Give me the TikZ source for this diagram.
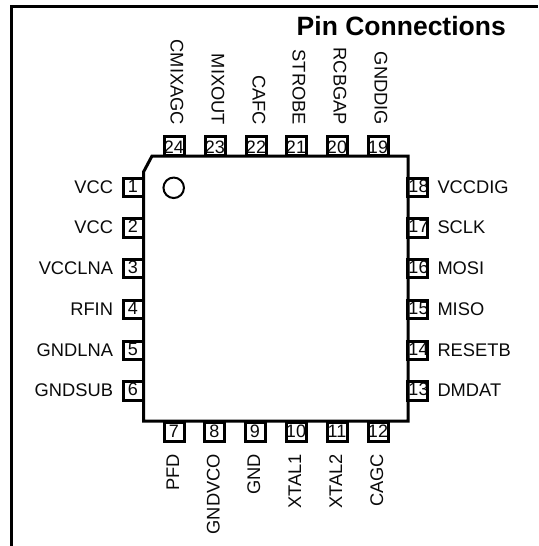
\documentclass[tikz,border=0pt]{standalone}
\usepackage{fontspec}
\setmainfont{Liberation Sans}
\definecolor{ink}{RGB}{10,10,10}
\tikzset{
  x=1pt,y=-1pt,
  pinbox/.style={draw=black,fill=none,line width=3pt,minimum width=20pt,minimum height=19pt,inner sep=0pt,outer sep=0pt},
  sidebox/.style={pinbox,minimum height=18.5pt},
  pinnum/.style={inner sep=0pt,outer sep=0pt,text=ink,font=\fontsize{18}{18}\selectfont,anchor=base},
  pinname/.style={inner sep=0pt,outer sep=0pt,text=ink,font=\fontsize{18.3}{18.3}\selectfont},
}
\begin{document}
\begin{tikzpicture}
\useasboundingbox (0,0) rectangle (538,546);
\fill[white] (0,0) rectangle (538,546);
\coordinate (fb) at (11.3,546);
\coordinate (ft) at (11.3,6.4);
\coordinate (fr) at (538,6.4);
\draw[line width=2.8pt,black] (fb) -- (ft) -- (fr);
\node[anchor=base east,inner sep=0pt,font=\fontsize{26.5}{26.5}\selectfont\bfseries,text=black] (title) at (506,35) {Pin Connections};
% numbers
\foreach \n/\y in {1/187.5,2/228,3/268.5,4/309.5,5/350.5,6/391}{
  \node[pinnum] (n\n) at (133,\y+4.7) {\n};
}
\foreach \n/\y in {18/187.5,17/228,16/268.5,15/309.5,14/350.5,13/391}{
  \node[pinnum] (n\n) at (418.5,\y+4.7) {\n};
}
\foreach \n/\x in {24/174,23/215,22/256,21/296,20/337,19/378}{
  \node[pinnum] (n\n) at (\x,153.5) {\n};
}
\foreach \n/\x in {7/174,8/214.5,9/255,10/296,11/337,12/378}{
  \node[pinnum] (n\n) at (\x,437.7) {\n};
}
% pin boxes
\foreach \n/\y/\t in {1/187.5/VCC,2/228/VCC,3/268.5/VCCLNA,4/309.5/RFIN,5/350.5/GNDLNA,6/391/GNDSUB}{
  \node[sidebox] (p\n) at (133,\y) {};
  \node[pinname,anchor=base east] (t\n) at (113,\y+5.6) {\t};
}
\foreach \n/\y/\t in {18/187.5/VCCDIG,17/228/SCLK,16/268.5/MOSI,15/309.5/MISO,14/350.5/RESETB,13/391/DMDAT}{
  \node[sidebox] (p\n) at (417.5,\y) {};
  \node[pinname,anchor=base west] (t\n) at (437.5,\y+5.6) {\t};
}
\foreach \n/\x/\t in {24/174/CMIXAGC,23/215/MIXOUT,22/256/CAFC,21/296/STROBE,20/337/RCBGAP,19/378/GNDDIG}{
  \node[pinbox] (p\n) at (\x,146) {};
  \node[pinname,anchor=base east,rotate=-90] (t\n) at (\x-3.5,125) {\t};
}
\foreach \n/\x/\t in {7/174/PFD,8/214.5/GNDVCO,9/255/GND,10/296/XTAL1,11/337/XTAL2,12/378/CAGC}{
  \node[pinbox] (p\n) at (\x,431.5) {};
  \node[pinname,anchor=base east,rotate=90] (t\n) at (\x+5,454) {\t};
}
% chip body
\coordinate (c1) at (143.5,172);
\coordinate (c2) at (152,156);
\coordinate (c3) at (408,156);
\coordinate (c4) at (408,421);
\coordinate (c5) at (143.5,421);
\draw[line width=3pt,black,fill=none,line join=miter] (c1) -- (c2) -- (c3) -- (c4) -- (c5) -- cycle;
\node[draw=black,line width=2pt,circle,minimum size=20.5pt,inner sep=0pt] (dot) at (173.7,187.8) {};
\end{tikzpicture}
\end{document}
